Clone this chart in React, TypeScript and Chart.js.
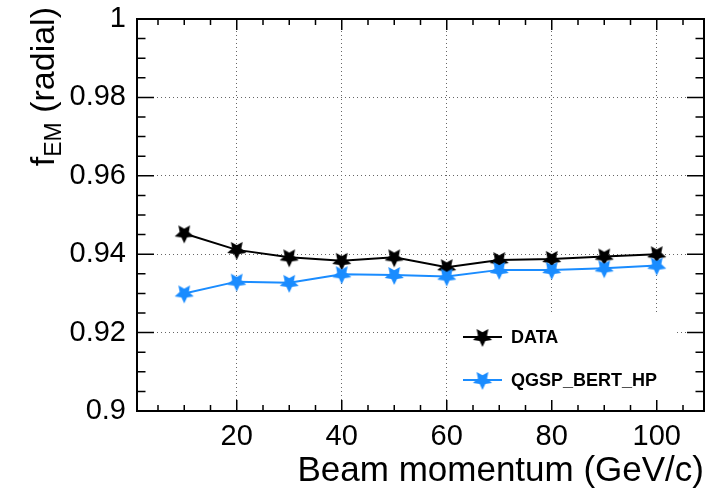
import React, { useEffect, useRef } from "react";
import { Chart, registerables } from "chart.js";

Chart.register(...registerables);

const momenta = [10, 20, 30, 40, 50, 60, 70, 80, 90, 100];
const dataValues = [0.9453, 0.9411, 0.9392, 0.9383, 0.9392, 0.9367, 0.9385, 0.9388, 0.9394, 0.94];
const qgspValues = [0.93, 0.933, 0.9327, 0.9349, 0.9347, 0.9343, 0.936, 0.936, 0.9364, 0.9371];
const xTickValues = [20, 40, 60, 80, 100];
const yTickValues = [0.9, 0.92, 0.94, 0.96, 0.98, 1.0];
const seriesNames = ["DATA", "QGSP_BERT_HP"];
const xTitle = "Beam momentum (GeV/c)";

const BLACK = "#000000";
const BLUE = "#1a8cff";
const FONT = "'Liberation Sans', Arial, Helvetica, sans-serif";

function makeStar(color: string, r: number): HTMLCanvasElement {
  const s = Math.ceil(r * 2 + 4);
  const c = document.createElement("canvas");
  c.width = s;
  c.height = s;
  const g = c.getContext("2d")!;
  g.translate(s / 2, s / 2);
  g.beginPath();
  for (let i = 0; i < 10; i++) {
    const ang = Math.PI / 2 + (i * Math.PI) / 5;
    const rad = i % 2 ? r * 0.48 : r;
    const px = rad * Math.cos(ang);
    const py = rad * Math.sin(ang);
    if (i === 0) g.moveTo(px, py);
    else g.lineTo(px, py);
  }
  g.closePath();
  g.fillStyle = color;
  g.fill();
  return c;
}

export default function App() {
  const ref = useRef<HTMLCanvasElement | null>(null);

  useEffect(() => {
    if (!ref.current) return;
    const blackStar = makeStar(BLACK, 10);
    const blueStar = makeStar(BLUE, 10);

    const framePlugin = {
      id: "rootFrame",
      afterDraw(chart: any) {
        const { ctx, chartArea: a, scales } = chart;
        const x = scales.x;
        const y = scales.y;
        ctx.save();

        // legend
        ctx.fillStyle = "#ffffff";
        ctx.fillRect(453, 315, 222, 86);
        const rows = [
          { name: seriesNames[0], color: BLACK, img: blackStar, yy: 337 },
          { name: seriesNames[1], color: BLUE, img: blueStar, yy: 380 },
        ];
        ctx.font = `bold 18px ${FONT}`;
        ctx.textBaseline = "middle";
        ctx.textAlign = "left";
        for (const r of rows) {
          ctx.strokeStyle = r.color;
          ctx.lineWidth = 2;
          ctx.beginPath();
          ctx.moveTo(463, r.yy);
          ctx.lineTo(502, r.yy);
          ctx.stroke();
          ctx.drawImage(r.img, 482.5 - r.img.width / 2, r.yy - r.img.height / 2);
          ctx.fillStyle = "#000";
          ctx.fillText(r.name, 511, r.yy + 1);
        }

        // frame
        ctx.strokeStyle = "#000";
        ctx.lineWidth = 2;
        ctx.strokeRect(a.left, a.top, a.right - a.left, a.bottom - a.top);

        // ticks
        ctx.lineWidth = 1.5;
        ctx.beginPath();
        for (let v = 5; v <= 105; v += 5) {
          const px = x.getPixelForValue(v);
          const len = v % 20 === 0 ? 11 : 6;
          ctx.moveTo(px, a.bottom);
          ctx.lineTo(px, a.bottom - len);
          ctx.moveTo(px, a.top);
          ctx.lineTo(px, a.top + len);
        }
        for (let i = 0; i <= 20; i++) {
          const v = 0.9 + i * 0.005;
          const py = y.getPixelForValue(v);
          const len = i % 4 === 0 ? 17 : 8.5;
          ctx.moveTo(a.left, py);
          ctx.lineTo(a.left + len, py);
          ctx.moveTo(a.right, py);
          ctx.lineTo(a.right - len, py);
        }
        ctx.stroke();

        // x title
        ctx.fillStyle = "#000";
        ctx.font = `35px ${FONT}`;
        ctx.textAlign = "right";
        ctx.textBaseline = "alphabetic";
        ctx.fillText(xTitle, a.right, 481);

        // y title: f_EM (radial)
        ctx.save();
        ctx.translate(54, a.top - 12);
        ctx.rotate(-Math.PI / 2);
        const mainFont = `34px ${FONT}`;
        const subFont = `23px ${FONT}`;
        ctx.font = mainFont;
        const wF = ctx.measureText("f").width;
        const wRad = ctx.measureText(" (radial)").width;
        ctx.font = subFont;
        const wEM = ctx.measureText("EM").width;
        const total = wF + wEM + wRad;
        let cx = -total;
        ctx.textAlign = "left";
        ctx.font = mainFont;
        ctx.fillText("f", cx, 0);
        cx += wF;
        ctx.font = subFont;
        ctx.fillText("EM", cx, 7);
        cx += wEM;
        ctx.font = mainFont;
        ctx.fillText(" (radial)", cx, 0);
        ctx.restore();

        ctx.restore();
      },
    };

    const chart = new Chart(ref.current, {
      type: "line",
      data: {
        datasets: [
          {
            label: seriesNames[1],
            data: momenta.map((m, i) => ({ x: m, y: qgspValues[i] })),
            borderColor: BLUE,
            backgroundColor: BLUE,
            borderWidth: 2,
            pointStyle: blueStar as any,
            order: 0,
          },
          {
            label: seriesNames[0],
            data: momenta.map((m, i) => ({ x: m, y: dataValues[i] })),
            borderColor: BLACK,
            backgroundColor: BLACK,
            borderWidth: 2,
            pointStyle: blackStar as any,
            order: 1,
          },
        ],
      },
      options: {
        animation: false,
        responsive: true,
        maintainAspectRatio: false,
        layout: { padding: { top: 19, right: 24, left: 0, bottom: 0 } },
        plugins: {
          legend: { display: false },
          tooltip: { enabled: false },
        },
        elements: { line: { tension: 0 } },
        scales: {
          x: {
            type: "linear",
            min: 1,
            max: 109,
            afterBuildTicks: (s: any) => {
              s.ticks = xTickValues.map((v) => ({ value: v }));
            },
            afterFit: (s: any) => {
              s.height = 77;
              s.paddingLeft = 0;
              s.paddingRight = 0;
            },
            border: { display: false, dash: [1, 3] },
            grid: {
              drawTicks: false,
              color: "#666",
              lineWidth: 1,
            },
            ticks: {
              padding: 9,
              color: "#000",
              font: { family: FONT, size: 29 },
              maxRotation: 0,
              autoSkip: false,
              callback: (v: any) => String(v),
            },
          },
          y: {
            type: "linear",
            min: 0.9,
            max: 1.0,
            afterBuildTicks: (s: any) => {
              s.ticks = yTickValues.map((v) => ({ value: v }));
            },
            afterFit: (s: any) => {
              s.width = 137;
              s.paddingTop = 0;
              s.paddingBottom = 0;
            },
            border: { display: false, dash: [1, 3] },
            grid: {
              drawTicks: false,
              color: "#666",
              lineWidth: 1,
            },
            ticks: {
              padding: 11,
              color: "#000",
              font: { family: FONT, size: 29 },
              autoSkip: false,
              callback: (v: any) => String(Number(Number(v).toFixed(2))),
            },
          },
        },
      } as any,
      plugins: [framePlugin],
    });

    return () => chart.destroy();
  }, []);

  return (
    <div style={{ position: "absolute", left: 0, top: 0, width: 728, height: 488, background: "#fff" }}>
      <canvas ref={ref} />
    </div>
  );
}
